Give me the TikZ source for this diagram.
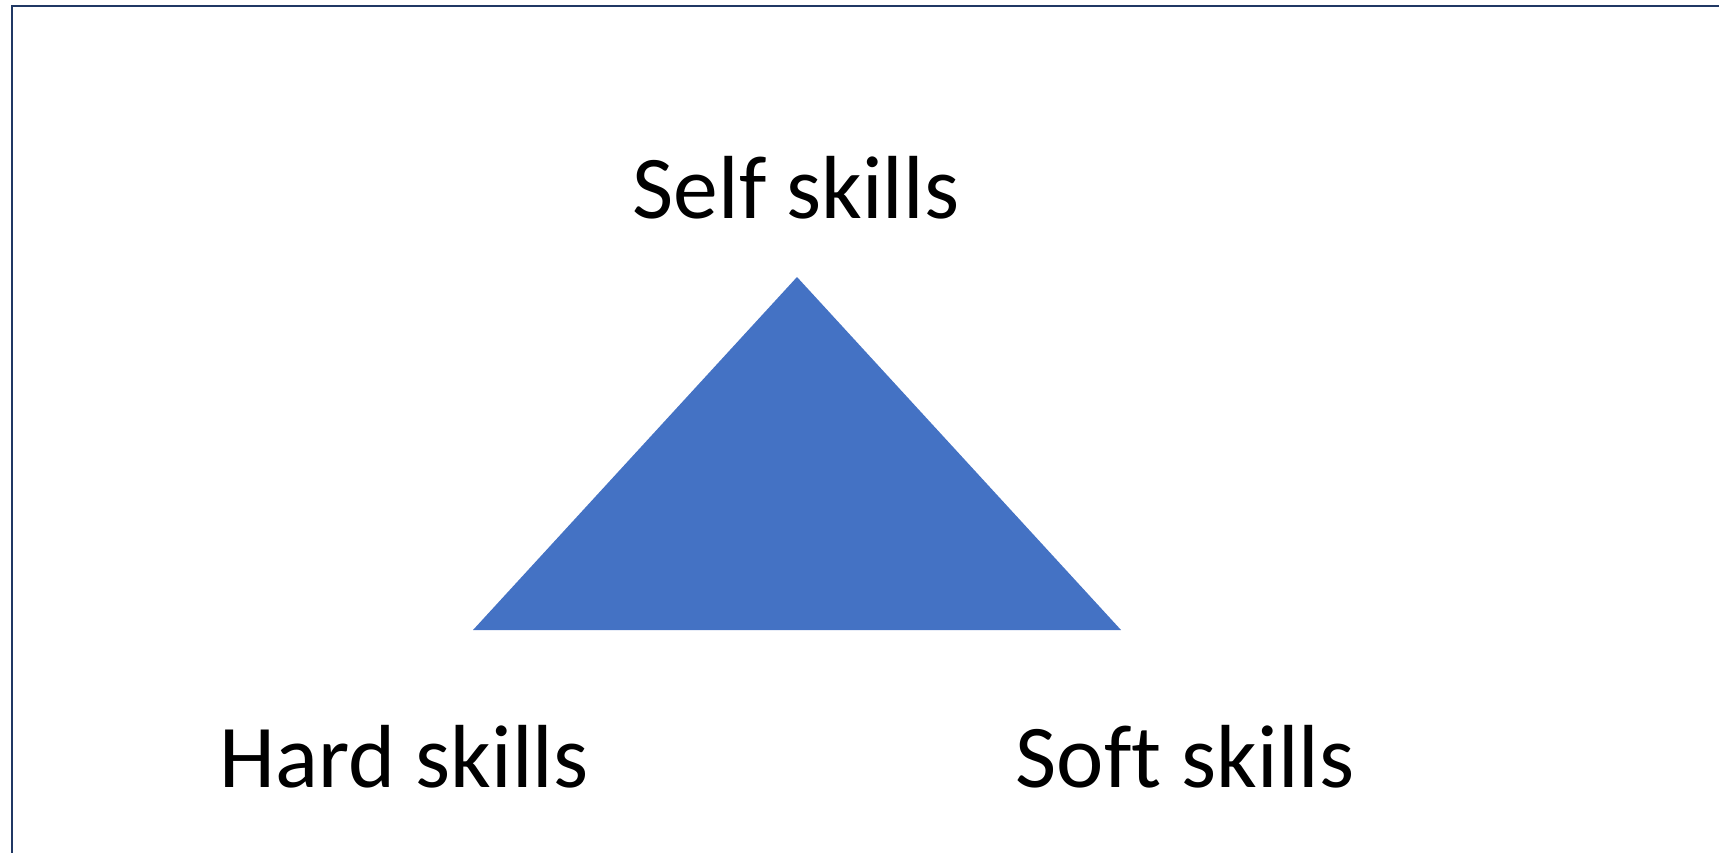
\documentclass[tikz,border=0pt]{standalone}
\usepackage{fontspec}
\setmainfont[Ligatures=NoCommon]{Carlito}
\usepackage{tikz}
\usetikzlibrary{positioning}

\definecolor{skillblue}{HTML}{4472C4}
\definecolor{framenavy}{HTML}{203864}

\tikzset{
    label/.style={font=\fontsize{51}{60}\selectfont, anchor=base, inner sep=0pt},
    frame/.style={draw=framenavy, line width=1.7pt},
}

\begin{document}
\begin{tikzpicture}[x=0.02cm, y=-0.02cm]
                \useasboundingbox (0,0) rectangle (1719,852);
                \draw[frame] (12,860) -- (12,6) -- (1725,6);

                \coordinate (top)   at (797,277);
                \coordinate (left)  at (473,630);
                \coordinate (right) at (1121,630);
                \fill[skillblue] (top) -- (left) -- (right) -- cycle;

                \node[label] (self) at (796,218) {Self skills};
                \node[label] (hard) at (404,787) {Hard skills};
                \node[label] (soft) at (1185,787) {Soft skills};
            \end{tikzpicture}
\end{document}
